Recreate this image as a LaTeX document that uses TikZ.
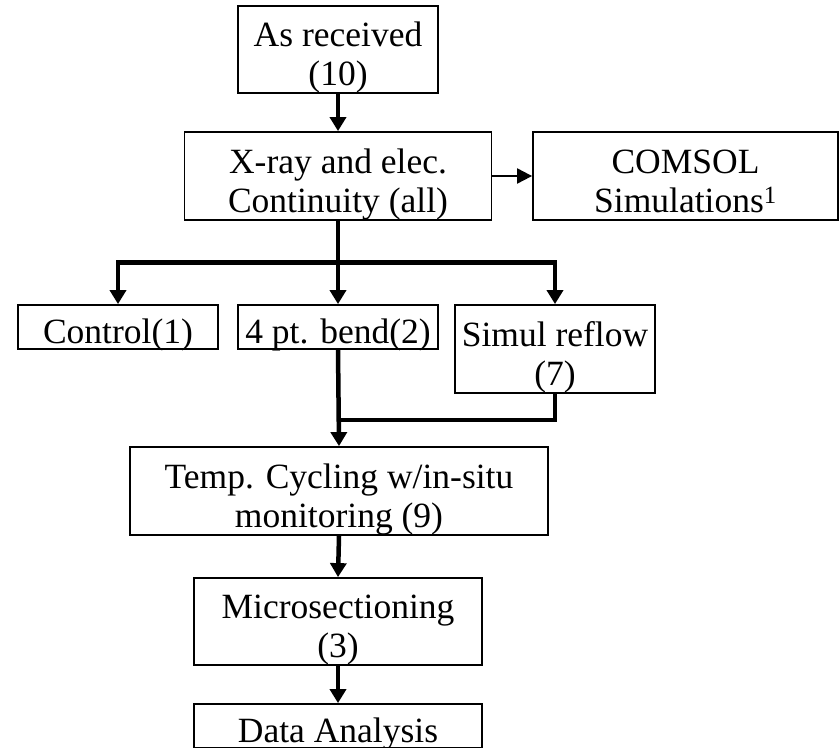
\documentclass[tikz,border=0pt]{standalone}
\usepackage{fontspec}
\setmainfont{Liberation Serif}
\usetikzlibrary{arrows.meta,calc}
\begin{document}
\begin{tikzpicture}[x=1pt,y=-1pt,
  box/.style={draw=black,line width=1.8pt,fill=white,inner sep=0pt},
  caption/.style={font=\fontsize{35.5}{39}\selectfont,inner sep=0pt,yshift=-4.5pt},
  flow/.style={line width=4.5pt,-{Triangle[width=16pt,length=14pt]}},
  bar/.style={line width=4.5pt},
  side/.style={line width=2pt,-{Triangle[width=15pt,length=15pt]}}]
\useasboundingbox (0,0) rectangle (840,747);

% process steps
\node[box,minimum width=200pt,minimum height=87pt] (recv) at (338,49.5) {};
\node[caption] at ([yshift=-4.5pt]recv.center) {\begin{tabular}{@{}c@{}}As received\\(10)\end{tabular}};

\node[box,minimum width=307pt,minimum height=88pt] (xray) at (338,176) {};
\node[caption] at ([yshift=-4.5pt]xray.center) {\begin{tabular}{@{}c@{}}X-ray and elec.\\Continuity (all)\end{tabular}};

\node[box,minimum width=305pt,minimum height=88pt] (comsol) at (685.5,176) {};
\node[caption] at ([yshift=-4.5pt]comsol.center) {\begin{tabular}{@{}c@{}}COMSOL\\Simulations\textsuperscript{1}\end{tabular}};

\node[box,minimum width=200pt,minimum height=44pt] (ctrl) at (118,327) {};
\node[caption] at ([yshift=-4.5pt]ctrl.center) {\begin{tabular}{@{}c@{}}Control(1)\end{tabular}};

\node[box,minimum width=200pt,minimum height=44pt] (bend) at (338,327) {};
\node[caption] at ([yshift=-4.5pt]bend.center) {\begin{tabular}{@{}c@{}}4 pt. bend(2)\end{tabular}};

\node[box,minimum width=200pt,minimum height=88pt] (reflow) at (555,349) {};
\node[caption] at ([yshift=-4.5pt]reflow.center) {\begin{tabular}{@{}c@{}}Simul reflow\\(7)\end{tabular}};

\node[box,minimum width=418pt,minimum height=88pt] (temp) at (339,491) {};
\node[caption] at ([yshift=-4.5pt]temp.center) {\begin{tabular}{@{}c@{}}Temp. Cycling w/in-situ\\monitoring (9)\end{tabular}};

\node[box,minimum width=288pt,minimum height=87pt] (micro) at (338,621.5) {};
\node[caption] at ([yshift=-4.5pt]micro.center) {\begin{tabular}{@{}c@{}}Microsectioning\\(3)\end{tabular}};

\node[box,minimum width=288pt,minimum height=44pt] (data) at (338,726) {};
\node[caption] at ([yshift=-4.5pt]data.center) {\begin{tabular}{@{}c@{}}Data Analysis\end{tabular}};

% connectors
\coordinate (split) at ($(xray.south)!0.5!(bend.north)$);
\coordinate (merge) at (338,420);

\draw[flow] (recv.south) -- (xray.north);
\draw[side] (xray.east) -- (comsol.west);
\draw[flow] (xray.south) -- (bend.north);
\draw[flow] (split) -| (ctrl.north);
\draw[flow] (split) -| (reflow.north);
\draw[flow] (bend.south) -- (temp.north);
\draw[bar] (reflow.south) |- (merge);
\draw[flow] (temp.south) -- (micro.north);
\draw[flow] (micro.south) -- (data.north);
\end{tikzpicture}
\end{document}
